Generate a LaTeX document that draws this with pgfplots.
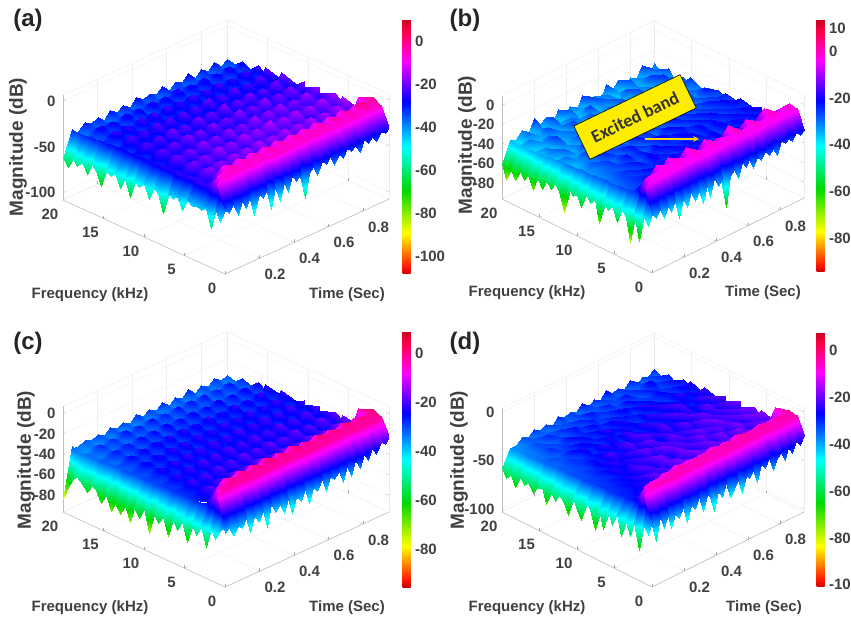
\documentclass[border=0pt]{standalone}
\usepackage{pgfplots}
\usepgfplotslibrary{patchplots}
\pgfplotsset{compat=1.18}
\usepackage{fontspec}
\setmainfont{Liberation Sans}
\newfontfamily\annotfont{Carlito}
\newcommand\lablf{\fontsize{15}{15}\selectfont\bfseries}
\newcommand\maglf{\fontsize{19}{19}\selectfont\bfseries}
\newcommand\panlf{\fontsize{24}{24}\selectfont\bfseries}
\definecolor{txt}{gray}{0.25}
\pgfplotsset{
 colormap={mhsv}{rgb(0pt)=(.8,0,0) rgb(3pt)=(1,.1,0) rgb(16pt)=(1,1,0) rgb(33pt)=(0,.85,0) rgb(50pt)=(0,1,1) rgb(68pt)=(0,0,1) rgb(84pt)=(1,0,1) rgb(95pt)=(1,0,.3) rgb(100pt)=(.8,0,.1)},
 table/mainT/.style={row sep=\\,x expr={0.95-0.0375*mod(\coordindex,25)},y expr={20-0.95*floor(\coordindex/25)},z index=0},
 table/edgeF/.style={row sep=\\,x expr={\coordindex<35?0.05:0},y expr={20-0.5882*mod(\coordindex,35)},z index=0},
 table/edgeT/.style={row sep=\\,x expr={0.95-0.02436*mod(\coordindex,40)},y expr={\coordindex<40?1:0},z index=0},
 panel/.style={
  axis lines=box, anchor=origin, clip=false,
  xmin=0,xmax=0.95,ymin=0,ymax=20,
  xtick={0.2,0.4,0.6,0.8}, ytick={0,5,10,15,20},
  xticklabels={0.2,0.4,0.6,0.8},
  tick pos=left,
  /pgf/number format/assume math mode=true,
  tick label style={font=\lablf,text=txt},
  grid=major, grid style={black!6},
  axis line style={black!8}, tick style={black!35},
  major tick length=3pt,
  every x tick label/.append style={anchor=center,xshift=15.5pt,yshift=-16pt},
  every y tick label/.append style={anchor=center,xshift=-13pt,yshift=-14pt},
  every z tick label/.append style={anchor=east,xshift=-4pt},
  z buffer=none, colorbar,
 },
 cb/.style={anchor=north west,width=8pt,/pgf/number format/assume math mode=true,
  yticklabel style={font=\lablf,text=txt,xshift=1pt},major tick length=0pt,axis line style={draw=none},tick style={draw=none}},
 sf/.style={surf,shader=interp,point meta={z+#1}},
}
\newcommand\floorframe[1]{%
 \draw[black!30] (axis cs:0,0,#1)--(axis cs:0.95,0,#1);
 \draw[black!30] (axis cs:0,0,#1)--(axis cs:0,20,#1);}
\begin{document}
\begin{tikzpicture}[x=1pt,y=1pt]
\useasboundingbox (0,0) rectangle (851,620);
% ---------- (a)
\begin{axis}[panel,at={(225pt,445pt)},x={(172.6pt,78.9pt)},y={(-8.1pt,3.7pt)},z={(0pt,0.917pt)},
 zmin=-108,zmax=6.5,ztick={-100,-50,0},point meta min=-108,point meta max=9.7,
 colorbar style={cb,at={(394pt,600pt)},height=254pt,ytick={-100,-80,-60,-40,-20,0}}]
\floorframe{-108}
\draw[black!25] (axis cs:0,20,-108)--(axis cs:0,20,6.5);
\addplot3[sf=4,mesh/rows=21,mesh/cols=25] table[mainT]{
-36\\-40\\-33\\-39\\-34\\-40\\-32\\-38\\-35\\-41\\-33\\-39\\-35\\-38\\-32\\-40\\-34\\-39\\-33\\-41\\-35\\-38\\-34\\-40\\-38\\
-38\\-43\\-37\\-42\\-36\\-42\\-38\\-43\\-37\\-41\\-36\\-43\\-38\\-42\\-37\\-41\\-36\\-42\\-38\\-43\\-37\\-41\\-38\\-42\\-40\\
-30\\-36\\-29\\-35\\-31\\-37\\-29\\-34\\-30\\-36\\-28\\-35\\-30\\-34\\-29\\-37\\-30\\-35\\-29\\-36\\-31\\-34\\-30\\-37\\-36\\
-35\\-40\\-34\\-39\\-35\\-40\\-33\\-39\\-34\\-40\\-35\\-38\\-33\\-39\\-35\\-40\\-34\\-39\\-35\\-40\\-33\\-39\\-35\\-40\\-38\\
-27\\-33\\-26\\-34\\-28\\-33\\-26\\-32\\-27\\-34\\-26\\-33\\-28\\-32\\-26\\-34\\-27\\-33\\-26\\-34\\-28\\-32\\-27\\-34\\-35\\
-33\\-38\\-32\\-37\\-33\\-38\\-31\\-37\\-32\\-38\\-33\\-36\\-31\\-37\\-33\\-38\\-32\\-37\\-33\\-38\\-31\\-37\\-33\\-38\\-37\\
-25\\-31\\-24\\-30\\-26\\-32\\-24\\-30\\-25\\-31\\-23\\-30\\-25\\-31\\-24\\-32\\-25\\-30\\-24\\-31\\-26\\-30\\-25\\-32\\-34\\
-31\\-36\\-30\\-35\\-31\\-37\\-30\\-35\\-31\\-36\\-30\\-36\\-31\\-35\\-30\\-37\\-31\\-35\\-30\\-36\\-32\\-35\\-31\\-36\\-36\\
-23\\-30\\-22\\-29\\-24\\-30\\-22\\-28\\-23\\-30\\-21\\-29\\-23\\-29\\-22\\-30\\-24\\-29\\-22\\-30\\-24\\-29\\-25\\-31\\-33\\
-29\\-35\\-28\\-34\\-29\\-35\\-28\\-33\\-29\\-35\\-28\\-34\\-29\\-34\\-28\\-35\\-29\\-34\\-28\\-35\\-30\\-34\\-30\\-36\\-35\\
-22\\-28\\-21\\-27\\-22\\-29\\-20\\-27\\-22\\-28\\-20\\-27\\-22\\-28\\-21\\-29\\-22\\-27\\-21\\-29\\-23\\-28\\-24\\-30\\-33\\
-28\\-33\\-27\\-33\\-28\\-34\\-27\\-32\\-28\\-33\\-27\\-33\\-28\\-33\\-27\\-34\\-28\\-33\\-27\\-34\\-29\\-33\\-29\\-35\\-34\\
-20\\-27\\-19\\-26\\-21\\-27\\-19\\-26\\-20\\-27\\-19\\-26\\-21\\-27\\-20\\-28\\-21\\-26\\-20\\-27\\-22\\-27\\-23\\-29\\-32\\
-26\\-32\\-25\\-31\\-26\\-32\\-25\\-31\\-26\\-32\\-25\\-31\\-26\\-32\\-25\\-33\\-26\\-32\\-26\\-33\\-27\\-32\\-28\\-34\\-33\\
-19\\-25\\-18\\-25\\-19\\-26\\-18\\-24\\-19\\-25\\-17\\-25\\-19\\-25\\-18\\-26\\-20\\-25\\-19\\-26\\-21\\-26\\-22\\-28\\-31\\
-25\\-30\\-24\\-30\\-25\\-31\\-24\\-29\\-25\\-30\\-24\\-30\\-25\\-30\\-24\\-31\\-25\\-30\\-25\\-31\\-26\\-31\\-27\\-32\\-32\\
-19\\-24\\-18\\-24\\-19\\-25\\-18\\-24\\-19\\-24\\-18\\-24\\-19\\-25\\-18\\-25\\-19\\-24\\-19\\-25\\-20\\-25\\-21\\-27\\-30\\
-24\\-28\\-24\\-28\\-25\\-29\\-24\\-28\\-24\\-29\\-24\\-28\\-25\\-28\\-24\\-29\\-25\\-28\\-25\\-29\\-25\\-29\\-26\\-30\\-31\\
-12\\-22\\-11\\-23\\-10\\-22\\-11\\-23\\-10\\-22\\-11\\-23\\-11\\-22\\-10\\-23\\-11\\-22\\-11\\-23\\-12\\-22\\-12\\-24\\-28\\
-5\\-7\\-4\\-10\\-7\\-10\\-7\\-11\\-7\\-10\\-8\\-10\\-7\\-11\\-8\\-10\\-7\\-11\\-8\\-10\\-8\\-11\\-8\\-10\\-12\\
-10\\-12\\-10\\-12\\-10\\-12\\-10\\-12\\-10\\-12\\-10\\-12\\-10\\-12\\-11\\-12\\-10\\-12\\-11\\-12\\-11\\-12\\-11\\-11\\-12\\
};
\addplot3[sf=4,mesh/rows=2,mesh/cols=35] table[edgeF]{
-35\\-36\\-36\\-35\\-34\\-34\\-33\\-33\\-32\\-32\\-32\\-31\\-31\\-31\\-31\\-30\\-30\\-30\\-29\\-29\\-29\\-29\\-28\\-28\\-28\\-27\\-27\\-27\\-27\\-26\\-18\\-11\\-10\\-10\\-14\\
-62\\-70\\-58\\-64\\-57\\-68\\-56\\-60\\-74\\-55\\-58\\-52\\-66\\-54\\-72\\-52\\-56\\-50\\-64\\-50\\-54\\-72\\-48\\-52\\-47\\-60\\-46\\-50\\-48\\-50\\-46\\-66\\-42\\-54\\-38\\
};
\addplot3[sf=4,mesh/rows=2,mesh/cols=40] table[edgeT]{
-9\\-9\\-9\\-9\\-9\\-9\\-9\\-9\\-9\\-9\\-9\\-9\\-9\\-9\\-9\\-9\\-9\\-9\\-9\\-9\\-9\\-9\\-9\\-9\\-9\\-9\\-9\\-9\\-9\\-9\\-9\\-9\\-9\\-9\\-9\\-9\\-9\\-10\\-11\\-14\\
-30\\-34\\-31\\-38\\-32\\-36\\-30\\-42\\-33\\-37\\-31\\-40\\-34\\-44\\-32\\-38\\-33\\-46\\-35\\-40\\-65\\-36\\-42\\-34\\-50\\-37\\-56\\-38\\-60\\-36\\-44\\-38\\-58\\-36\\-46\\-37\\-50\\-36\\-44\\-38\\
};
\end{axis}
% ---------- (b)
\begin{axis}[panel,at={(652pt,440.6pt)},x={(160pt,78.9pt)},y={(-7.5pt,3.7pt)},z={(0pt,0.97pt)},
 zmin=-96.5,zmax=10,ztick={-80,-60,-40,-20,0},point meta min=-94.5,point meta max=13.4,
 colorbar style={cb,at={(808pt,600pt)},height=252pt,ytick={-80,-60,-40,-20,0,10}}]
\floorframe{-96.5}
\draw[black!25] (axis cs:0,20,-96.5)--(axis cs:0,20,10);
\addplot3[sf=5,mesh/rows=21,mesh/cols=25] table[mainT]{
-34\\-44\\-30\\-41\\-36\\-46\\-33\\-40\\-31\\-45\\-37\\-42\\-30\\-44\\-35\\-41\\-32\\-46\\-34\\-39\\-29\\-43\\-36\\-42\\-40\\
-40\\-33\\-45\\-36\\-41\\-32\\-43\\-38\\-46\\-34\\-40\\-31\\-44\\-37\\-42\\-33\\-45\\-39\\-31\\-44\\-36\\-41\\-34\\-45\\-42\\
-31\\-42\\-37\\-30\\-44\\-36\\-41\\-32\\-39\\-45\\-33\\-38\\-42\\-30\\-43\\-37\\-33\\-41\\-36\\-44\\-31\\-39\\-43\\-35\\-41\\
-41\\-34\\-28\\-43\\-35\\-40\\-31\\-44\\-36\\-31\\-42\\-34\\-39\\-45\\-32\\-38\\-43\\-30\\-42\\-35\\-40\\-33\\-37\\-44\\-42\\
-33\\-40\\-36\\-42\\-30\\-37\\-43\\-34\\-41\\-38\\-29\\-44\\-33\\-38\\-41\\-31\\-39\\-44\\-34\\-37\\-42\\-30\\-41\\-36\\-43\\
-39\\-31\\-43\\-35\\-40\\-28\\-38\\-44\\-32\\-40\\-36\\-41\\-30\\-43\\-35\\-39\\-31\\-42\\-38\\-33\\-40\\-36\\-44\\-34\\-41\\
-30\\-38\\-34\\-41\\-33\\-42\\-36\\-29\\-40\\-35\\-43\\-31\\-38\\-34\\-41\\-28\\-37\\-43\\-32\\-39\\-35\\-42\\-33\\-40\\-42\\
-37\\-32\\-40\\-29\\-39\\-34\\-41\\-35\\-31\\-42\\-33\\-38\\-36\\-29\\-40\\-35\\-42\\-31\\-37\\-41\\-30\\-38\\-40\\-34\\-41\\
-33\\-27\\-36\\-32\\-38\\-28\\-35\\-40\\-33\\-29\\-37\\-34\\-40\\-31\\-36\\-28\\-34\\-39\\-32\\-36\\-38\\-31\\-37\\-41\\-40\\
-29\\-35\\-30\\-37\\-31\\-34\\-27\\-36\\-31\\-38\\-30\\-35\\-28\\-37\\-33\\-31\\-38\\-29\\-35\\-32\\-37\\-33\\-36\\-39\\-40\\
-33\\-28\\-34\\-27\\-35\\-30\\-36\\-29\\-33\\-26\\-35\\-31\\-36\\-29\\-34\\-27\\-33\\-36\\-30\\-34\\-28\\-36\\-32\\-37\\-38\\
-28\\-33\\-26\\-32\\-29\\-35\\-27\\-32\\-28\\-34\\-30\\-26\\-33\\-31\\-28\\-35\\-30\\-26\\-34\\-31\\-35\\-30\\-35\\-37\\-38\\
-31\\-25\\-30\\-28\\-33\\-25\\-31\\-27\\-34\\-29\\-26\\-33\\-28\\-24\\-32\\-29\\-34\\-28\\-32\\-26\\-33\\-31\\-34\\-36\\-37\\
-26\\-31\\-27\\-33\\-27\\-30\\-26\\-32\\-25\\-31\\-28\\-24\\-31\\-29\\-33\\-25\\-30\\-27\\-33\\-30\\-28\\-33\\-32\\-35\\-36\\
-29\\-24\\-30\\-25\\-31\\-28\\-24\\-30\\-27\\-32\\-25\\-30\\-27\\-33\\-26\\-30\\-28\\-24\\-31\\-27\\-32\\-29\\-31\\-34\\-36\\
-25\\-29\\-26\\-31\\-24\\-29\\-27\\-32\\-25\\-28\\-31\\-26\\-29\\-24\\-31\\-27\\-30\\-26\\-29\\-31\\-27\\-31\\-30\\-33\\-35\\
-27\\-23\\-29\\-25\\-30\\-26\\-23\\-29\\-26\\-31\\-24\\-28\\-25\\-30\\-26\\-23\\-29\\-27\\-31\\-25\\-29\\-28\\-30\\-32\\-34\\
-24\\-28\\-25\\-29\\-24\\-27\\-28\\-25\\-30\\-26\\-28\\-24\\-29\\-26\\-28\\-25\\-29\\-26\\-28\\-27\\-29\\-27\\-30\\-31\\-33\\
-22\\-14\\-24\\-6\\-23\\-20\\-8\\-24\\-18\\-5\\-23\\-12\\-24\\-7\\-22\\-19\\-6\\-24\\-14\\-7\\-23\\-9\\-24\\-20\\-28\\
-6\\-7\\-9\\-4\\-8\\-9\\-5\\-8\\-9\\-4\\-8\\-8\\-9\\-5\\-8\\-9\\-5\\-9\\-8\\-6\\-8\\-7\\-9\\-9\\-10\\
-9\\-9\\-10\\-8\\-9\\-10\\-8\\-9\\-10\\-8\\-9\\-9\\-10\\-9\\-9\\-10\\-8\\-10\\-9\\-9\\-9\\-9\\-10\\-9\\-10\\
};
\addplot3[sf=5,mesh/rows=2,mesh/cols=35] table[edgeF]{
-40\\-41\\-41\\-40\\-40\\-39\\-39\\-38\\-38\\-37\\-37\\-36\\-36\\-35\\-35\\-35\\-34\\-34\\-34\\-33\\-33\\-33\\-32\\-32\\-32\\-31\\-31\\-30\\-30\\-27\\-17\\-9\\-8\\-8\\-12\\
-60\\-74\\-62\\-70\\-60\\-66\\-58\\-72\\-56\\-66\\-56\\-62\\-54\\-60\\-78\\-52\\-58\\-54\\-64\\-50\\-56\\-50\\-72\\-48\\-54\\-48\\-62\\-46\\-52\\-76\\-44\\-70\\-42\\-50\\-36\\
};
\addplot3[sf=5,mesh/rows=2,mesh/cols=40] table[edgeT]{
-7\\-7\\-7\\-7\\-7\\-7\\-7\\-7\\-7\\-7\\-7\\-7\\-7\\-7\\-7\\-7\\-7\\-7\\-7\\-7\\-7\\-7\\-7\\-7\\-7\\-7\\-7\\-7\\-7\\-7\\-7\\-7\\-7\\-7\\-7\\-7\\-7\\-8\\-9\\-12\\
-26\\-30\\-24\\-32\\-28\\-30\\-26\\-38\\-30\\-34\\-28\\-36\\-30\\-40\\-29\\-35\\-28\\-42\\-32\\-36\\-66\\-34\\-40\\-30\\-48\\-34\\-50\\-36\\-44\\-33\\-46\\-36\\-54\\-33\\-44\\-35\\-46\\-34\\-42\\-36\\
};
\end{axis}
% ---------- (c)
\begin{axis}[panel,at={(225pt,131.4pt)},x={(172.6pt,78.9pt)},y={(-8.1pt,3.75pt)},z={(0pt,1.02pt)},
 zmin=-96.5,zmax=7,ztick={-80,-60,-40,-20,0},point meta min=-95.5,point meta max=8.6,
 colorbar style={cb,at={(394pt,288pt)},height=255pt,ytick={-80,-60,-40,-20,0}}]
\floorframe{-96.5}
\draw[black!25] (axis cs:0,20,-96.5)--(axis cs:0,20,7);
\addplot3[sf=5,mesh/rows=21,mesh/cols=25] table[mainT]{
-36\\-38\\-33\\-38\\-34\\-39\\-32\\-38\\-34\\-39\\-33\\-38\\-34\\-38\\-33\\-39\\-35\\-38\\-34\\-39\\-35\\-38\\-36\\-39\\-38\\
-38\\-41\\-36\\-40\\-36\\-41\\-37\\-41\\-36\\-40\\-37\\-41\\-36\\-41\\-37\\-40\\-37\\-41\\-36\\-40\\-37\\-41\\-38\\-41\\-40\\
-32\\-36\\-30\\-35\\-31\\-37\\-30\\-35\\-30\\-36\\-30\\-36\\-31\\-35\\-30\\-36\\-31\\-35\\-30\\-36\\-32\\-36\\-32\\-37\\-38\\
-35\\-38\\-34\\-38\\-35\\-39\\-34\\-38\\-35\\-38\\-34\\-38\\-35\\-38\\-34\\-39\\-35\\-38\\-35\\-39\\-35\\-38\\-36\\-39\\-39\\
-29\\-34\\-28\\-34\\-29\\-35\\-28\\-33\\-29\\-34\\-28\\-34\\-29\\-34\\-28\\-35\\-29\\-34\\-29\\-35\\-30\\-34\\-31\\-35\\-37\\
-33\\-37\\-32\\-37\\-33\\-37\\-32\\-36\\-33\\-37\\-32\\-37\\-33\\-37\\-32\\-37\\-33\\-36\\-33\\-37\\-33\\-37\\-34\\-38\\-38\\
-27\\-32\\-26\\-32\\-27\\-33\\-26\\-31\\-27\\-32\\-26\\-32\\-27\\-32\\-26\\-33\\-27\\-32\\-27\\-33\\-28\\-33\\-29\\-34\\-36\\
-31\\-35\\-30\\-35\\-31\\-36\\-30\\-35\\-31\\-35\\-30\\-35\\-31\\-35\\-30\\-36\\-31\\-35\\-31\\-36\\-32\\-35\\-33\\-36\\-37\\
-26\\-31\\-25\\-31\\-26\\-32\\-25\\-30\\-26\\-31\\-25\\-31\\-26\\-31\\-25\\-32\\-26\\-31\\-26\\-32\\-27\\-32\\-28\\-33\\-35\\
-30\\-34\\-29\\-34\\-30\\-35\\-29\\-33\\-30\\-34\\-29\\-34\\-30\\-34\\-29\\-35\\-30\\-34\\-30\\-35\\-31\\-34\\-32\\-35\\-36\\
-25\\-30\\-24\\-30\\-25\\-31\\-24\\-29\\-25\\-30\\-24\\-30\\-25\\-30\\-24\\-31\\-25\\-30\\-25\\-31\\-26\\-31\\-27\\-32\\-35\\
-29\\-33\\-28\\-33\\-29\\-34\\-28\\-32\\-29\\-33\\-28\\-33\\-29\\-33\\-28\\-34\\-29\\-33\\-29\\-34\\-30\\-33\\-31\\-34\\-35\\
-24\\-29\\-23\\-29\\-24\\-30\\-23\\-28\\-24\\-29\\-23\\-29\\-24\\-29\\-23\\-30\\-24\\-29\\-24\\-30\\-25\\-30\\-26\\-31\\-34\\
-28\\-32\\-27\\-32\\-28\\-33\\-27\\-31\\-28\\-32\\-27\\-32\\-28\\-32\\-27\\-33\\-28\\-32\\-28\\-33\\-29\\-32\\-30\\-33\\-34\\
-23\\-28\\-22\\-28\\-23\\-29\\-22\\-27\\-23\\-28\\-22\\-28\\-23\\-28\\-22\\-29\\-23\\-28\\-23\\-29\\-24\\-29\\-25\\-30\\-33\\
-27\\-31\\-26\\-31\\-27\\-32\\-26\\-30\\-27\\-31\\-26\\-31\\-27\\-31\\-26\\-32\\-27\\-31\\-27\\-32\\-28\\-31\\-29\\-32\\-33\\
-22\\-27\\-21\\-27\\-22\\-28\\-21\\-27\\-22\\-27\\-21\\-27\\-22\\-27\\-21\\-28\\-22\\-27\\-22\\-28\\-23\\-28\\-24\\-29\\-32\\
-24\\-27\\-24\\-27\\-24\\-28\\-24\\-27\\-24\\-27\\-24\\-27\\-24\\-27\\-24\\-28\\-24\\-27\\-24\\-28\\-25\\-28\\-26\\-29\\-31\\
-9\\-20\\-9\\-21\\-8\\-20\\-9\\-21\\-8\\-20\\-9\\-21\\-8\\-20\\-9\\-21\\-8\\-20\\-9\\-21\\-9\\-20\\-10\\-22\\-27\\
-3\\-6\\-5\\-7\\-4\\-7\\-5\\-7\\-4\\-7\\-5\\-7\\-4\\-7\\-5\\-7\\-4\\-7\\-5\\-7\\-5\\-7\\-6\\-8\\-9\\
-7\\-8\\-8\\-9\\-8\\-9\\-8\\-9\\-8\\-9\\-8\\-9\\-8\\-9\\-8\\-9\\-8\\-9\\-8\\-9\\-8\\-9\\-8\\-8\\-9\\
};
\addplot3[sf=5,mesh/rows=2,mesh/cols=35] table[edgeF]{
-36\\-39\\-38\\-38\\-37\\-37\\-36\\-36\\-36\\-36\\-36\\-35\\-35\\-35\\-35\\-34\\-34\\-34\\-34\\-34\\-33\\-33\\-33\\-33\\-33\\-32\\-32\\-32\\-31\\-26\\-16\\-8\\-7\\-6\\-11\\
-84\\-70\\-60\\-56\\-60\\-66\\-58\\-60\\-70\\-60\\-74\\-64\\-72\\-62\\-76\\-60\\-68\\-56\\-78\\-58\\-64\\-56\\-72\\-54\\-62\\-52\\-70\\-50\\-58\\-48\\-66\\-46\\-54\\-44\\-38\\
};
\addplot3[sf=5,mesh/rows=2,mesh/cols=40] table[edgeT]{
-6\\-6\\-6\\-6\\-6\\-6\\-6\\-6\\-6\\-6\\-6\\-6\\-6\\-6\\-6\\-6\\-6\\-6\\-6\\-6\\-6\\-6\\-6\\-6\\-6\\-6\\-6\\-6\\-6\\-6\\-6\\-6\\-6\\-6\\-6\\-6\\-6\\-7\\-8\\-11\\
-22\\-28\\-24\\-34\\-26\\-36\\-28\\-40\\-30\\-44\\-32\\-46\\-34\\-40\\-36\\-48\\-34\\-44\\-38\\-52\\-36\\-46\\-40\\-54\\-38\\-50\\-40\\-46\\-36\\-56\\-38\\-48\\-40\\-54\\-38\\-46\\-42\\-50\\-40\\-44\\
};
\end{axis}
% ---------- (d)
\begin{axis}[panel,at={(652pt,133pt)},x={(160pt,78.9pt)},y={(-7.5pt,3.75pt)},z={(0pt,0.97pt)},
 zmin=-103,zmax=4,ztick={-100,-50,0},point meta min=-101,point meta max=8,
 colorbar style={cb,at={(808pt,288pt)},height=255pt,ytick={-100,-80,-60,-40,-20,0}}]
\floorframe{-103}
\draw[black!25] (axis cs:0,20,-103)--(axis cs:0,20,4);
\addplot3[sf=3,mesh/rows=21,mesh/cols=25] table[mainT]{
-33\\-37\\-35\\-40\\-32\\-38\\-34\\-36\\-30\\-37\\-33\\-39\\-31\\-38\\-35\\-37\\-33\\-40\\-35\\-38\\-34\\-39\\-36\\-41\\-41\\
-37\\-33\\-39\\-35\\-37\\-41\\-33\\-38\\-36\\-34\\-39\\-35\\-37\\-40\\-34\\-38\\-36\\-35\\-39\\-37\\-40\\-36\\-38\\-40\\-41\\
-31\\-36\\-33\\-28\\-36\\-32\\-38\\-30\\-35\\-37\\-31\\-36\\-33\\-30\\-37\\-32\\-35\\-38\\-33\\-36\\-32\\-38\\-35\\-39\\-40\\
-35\\-30\\-37\\-33\\-31\\-37\\-34\\-36\\-29\\-35\\-37\\-32\\-36\\-34\\-31\\-36\\-33\\-30\\-37\\-34\\-38\\-35\\-36\\-39\\-39\\
-29\\-34\\-31\\-36\\-29\\-33\\-35\\-30\\-34\\-31\\-28\\-35\\-31\\-36\\-33\\-29\\-35\\-32\\-36\\-30\\-34\\-36\\-33\\-38\\-39\\
-33\\-28\\-35\\-30\\-33\\-36\\-29\\-33\\-27\\-36\\-32\\-30\\-35\\-28\\-34\\-36\\-30\\-33\\-29\\-36\\-32\\-35\\-37\\-36\\-38\\
-27\\-33\\-29\\-26\\-34\\-30\\-33\\-27\\-35\\-29\\-33\\-36\\-28\\-33\\-30\\-26\\-34\\-31\\-35\\-28\\-33\\-30\\-35\\-37\\-38\\
-32\\-27\\-33\\-30\\-28\\-34\\-25\\-32\\-30\\-26\\-34\\-29\\-32\\-27\\-35\\-31\\-28\\-34\\-30\\-33\\-28\\-35\\-33\\-36\\-37\\
-26\\-31\\-25\\-33\\-29\\-24\\-32\\-28\\-25\\-33\\-30\\-26\\-34\\-29\\-25\\-33\\-28\\-31\\-26\\-34\\-31\\-33\\-34\\-36\\-37\\
-30\\-24\\-32\\-27\\-31\\-26\\-30\\-23\\-33\\-28\\-25\\-32\\-27\\-30\\-24\\-32\\-26\\-29\\-33\\-28\\-31\\-30\\-35\\-35\\-36\\
-24\\-30\\-26\\-22\\-31\\-27\\-24\\-31\\-26\\-29\\-23\\-32\\-26\\-24\\-31\\-27\\-23\\-32\\-28\\-24\\-32\\-29\\-33\\-35\\-36\\
-28\\-23\\-31\\-25\\-28\\-22\\-31\\-26\\-23\\-30\\-27\\-25\\-32\\-28\\-22\\-30\\-27\\-25\\-31\\-29\\-26\\-32\\-31\\-34\\-35\\
-22\\-29\\-24\\-30\\-24\\-28\\-21\\-30\\-27\\-24\\-31\\-22\\-28\\-24\\-30\\-25\\-22\\-31\\-26\\-29\\-31\\-27\\-33\\-33\\-35\\
-27\\-22\\-28\\-23\\-30\\-21\\-28\\-24\\-22\\-29\\-25\\-30\\-23\\-28\\-21\\-30\\-27\\-24\\-29\\-25\\-29\\-31\\-31\\-33\\-34\\
-21\\-27\\-22\\-29\\-23\\-26\\-22\\-29\\-25\\-21\\-30\\-24\\-27\\-22\\-29\\-24\\-21\\-29\\-26\\-24\\-30\\-28\\-31\\-32\\-34\\
-26\\-21\\-28\\-24\\-21\\-29\\-25\\-21\\-28\\-26\\-22\\-29\\-25\\-21\\-28\\-26\\-23\\-28\\-24\\-29\\-26\\-30\\-30\\-32\\-33\\
-20\\-26\\-22\\-27\\-24\\-20\\-27\\-23\\-25\\-21\\-28\\-23\\-21\\-27\\-24\\-20\\-28\\-24\\-27\\-22\\-29\\-27\\-30\\-31\\-33\\
-24\\-21\\-26\\-22\\-25\\-23\\-21\\-26\\-23\\-26\\-22\\-25\\-24\\-22\\-26\\-23\\-25\\-22\\-26\\-24\\-27\\-26\\-28\\-30\\-32\\
-10\\-17\\-12\\-19\\-11\\-18\\-13\\-16\\-10\\-19\\-12\\-17\\-11\\-19\\-13\\-18\\-12\\-16\\-11\\-19\\-13\\-19\\-15\\-22\\-28\\
-5\\-7\\-6\\-8\\-7\\-6\\-8\\-7\\-6\\-8\\-7\\-7\\-8\\-7\\-8\\-7\\-8\\-8\\-7\\-8\\-8\\-9\\-9\\-9\\-10\\
-8\\-9\\-9\\-9\\-8\\-10\\-9\\-9\\-8\\-10\\-9\\-9\\-9\\-10\\-9\\-9\\-9\\-10\\-10\\-9\\-9\\-10\\-10\\-9\\-10\\
};
\addplot3[sf=3,mesh/rows=2,mesh/cols=35] table[edgeF]{
-41\\-41\\-40\\-40\\-39\\-39\\-38\\-38\\-37\\-37\\-37\\-36\\-36\\-36\\-35\\-35\\-35\\-34\\-34\\-34\\-33\\-33\\-33\\-33\\-32\\-32\\-32\\-31\\-31\\-27\\-17\\-9\\-8\\-7\\-12\\
-58\\-66\\-60\\-70\\-58\\-64\\-60\\-68\\-60\\-58\\-72\\-58\\-64\\-56\\-62\\-72\\-52\\-62\\-70\\-50\\-56\\-74\\-50\\-68\\-48\\-60\\-46\\-66\\-50\\-62\\-46\\-72\\-44\\-52\\-36\\
};
\addplot3[sf=3,mesh/rows=2,mesh/cols=40] table[edgeT]{
-7\\-7\\-7\\-7\\-7\\-7\\-7\\-7\\-7\\-7\\-7\\-7\\-7\\-7\\-7\\-7\\-7\\-7\\-7\\-7\\-7\\-7\\-7\\-7\\-7\\-7\\-7\\-7\\-7\\-7\\-7\\-7\\-7\\-7\\-7\\-7\\-7\\-8\\-9\\-12\\
-24\\-32\\-26\\-36\\-28\\-40\\-30\\-34\\-44\\-30\\-38\\-32\\-48\\-34\\-40\\-36\\-52\\-36\\-44\\-50\\-34\\-46\\-38\\-56\\-40\\-36\\-50\\-34\\-44\\-38\\-54\\-36\\-46\\-40\\-52\\-36\\-48\\-34\\-58\\-36\\
};
\end{axis}
% ---------- text
\node[font=\lablf,text=txt] at (90,325) {Frequency (kHz)};
\node[font=\lablf,text=txt] at (347,325) {Time (Sec)};
\node[font=\maglf,text=txt,rotate=90] at (18,473) {Magnitude (dB)};
\node[font=\panlf,text=black!85] at (28,600) {(a)};
\node[font=\lablf,text=txt] at (527,327) {Frequency (kHz)};
\node[font=\lablf,text=txt] at (763,327) {Time (Sec)};
\node[font=\maglf,text=txt,rotate=90] at (467,475) {Magnitude (dB)};
\node[font=\panlf,text=black!85] at (465,600) {(b)};
\node[font=\lablf,text=txt] at (90,12) {Frequency (kHz)};
\node[font=\lablf,text=txt] at (347,12) {Time (Sec)};
\node[font=\maglf,text=txt,rotate=90] at (26,160) {Magnitude (dB)};
\node[font=\panlf,text=black!85] at (28,277) {(c)};
\node[font=\lablf,text=txt] at (527,12) {Frequency (kHz)};
\node[font=\lablf,text=txt] at (764,12) {Time (Sec)};
\node[font=\maglf,text=txt,rotate=90] at (459,160) {Magnitude (dB)};
\node[font=\panlf,text=black!85] at (465,277) {(d)};
\node[draw=black,line width=0.6pt,fill=yellow!95!orange,rotate=25.8,minimum width=118pt,minimum height=37pt,inner sep=0pt,font=\annotfont\bfseries\fontsize{18}{18}\selectfont,text=black!80] at (635,503) {Excited band};
\draw[-stealth,line width=1.6pt,color=yellow!75!orange] (645,481) -- (699,481);
\end{tikzpicture}
\end{document}
